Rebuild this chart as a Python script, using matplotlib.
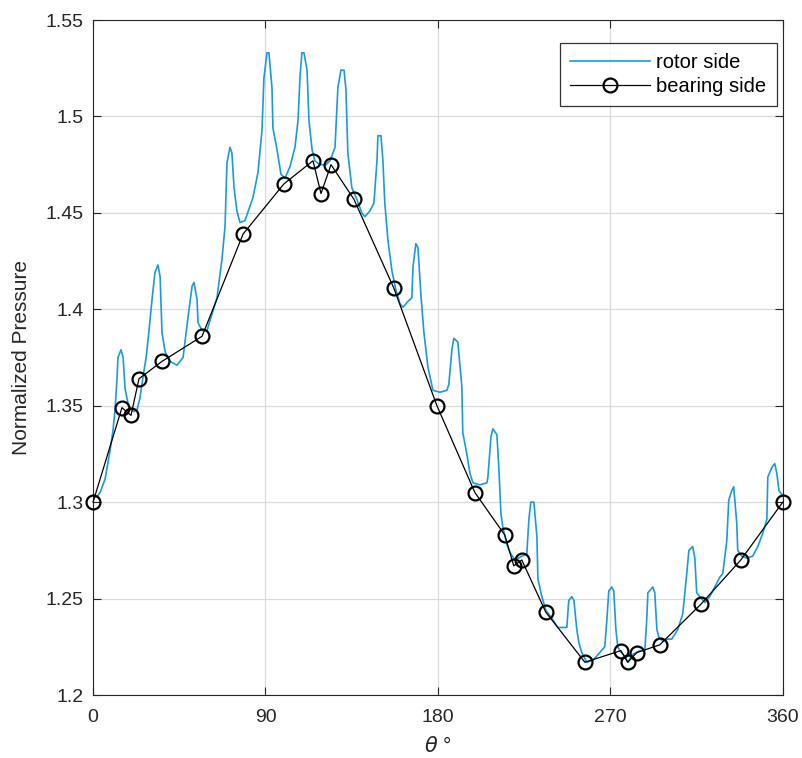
from matplotlib import pyplot as plt
import numpy as np

# rotor side pressure trace (theta in degrees, normalized pressure)
rotor_theta = [
    0, 2.1, 3.7, 6.3, 8.9, 10.4, 11.5, 12.5, 13.0, 14.6, 15.7, 16.7, 18.3, 19.8,
    21.4, 23.0, 24.5, 26.1, 27.7, 28.7, 30.8, 32.3, 33.9, 35.0, 36.0, 37.6, 40.2,
    43.8, 47.0, 49.6, 51.7, 52.7, 54.3, 54.8, 56.9, 59.5, 61.0, 64.7, 67.3, 68.9,
    69.9, 71.5, 72.5, 73.6, 75.1, 76.7, 79.3, 83.5, 86.1, 88.2, 89.2, 90.8, 91.8,
    93.4, 93.9, 96.0, 98.1, 100.2, 102.8, 105.4, 107.0, 108.0, 109.0, 110.1,
    111.7, 112.7, 114.3, 115.8, 118.4, 121.6, 123.7, 126.3, 127.8, 129.4, 131.0,
    132.0, 133.0, 135.1, 137.7, 140.3, 141.9, 144.5, 146.6, 148.2, 148.7, 150.3,
    151.3, 152.3, 153.9, 156.0, 158.1, 160.2, 161.7, 164.3, 166.4, 167.0, 168.5,
    169.6, 171.1, 172.7, 174.8, 177.4, 181.0, 184.7, 185.7, 187.3, 188.3, 190.4,
    192.5, 193.0, 195.1, 196.7, 198.3, 201.9, 205.6, 206.1, 207.7, 208.7, 210.8,
    211.8, 212.9, 213.9, 216.0, 217.6, 220.2, 223.8, 226.4, 227.5, 228.5, 230.1,
    231.7, 232.2, 234.3, 236.3, 240.0, 242.6, 245.2, 247.3, 248.3, 249.9, 251.0,
    252.5, 253.6, 255.1, 257.7, 260.9, 264.5, 267.1, 268.2, 269.2, 270.8, 271.8,
    272.9, 273.9, 275.0, 277.6, 279.1, 281.7, 285.4, 288.0, 289.0, 289.6, 292.2,
    293.2, 294.3, 295.3, 297.4, 300.0, 302.1, 305.2, 307.8, 309.9, 311.0, 313.0,
    314.1, 315.1, 316.7, 319.3, 321.9, 324.5, 327.1, 328.7, 330.8, 331.8, 333.4,
    334.4, 336.0, 336.5, 338.6, 341.2, 344.3, 347.0, 349.6, 351.7, 352.2, 354.3,
    355.8, 356.9, 358.0, 359.5, 360.0,
]
rotor_p = [
    1.302, 1.303, 1.305, 1.312, 1.327, 1.337, 1.348, 1.364, 1.375, 1.379, 1.375,
    1.359, 1.351, 1.348, 1.347, 1.348, 1.354, 1.365, 1.375, 1.384, 1.405, 1.419,
    1.423, 1.417, 1.388, 1.378, 1.373, 1.371, 1.375, 1.396, 1.412, 1.414, 1.405,
    1.393, 1.389, 1.389, 1.394, 1.406, 1.426, 1.443, 1.476, 1.484, 1.481, 1.463,
    1.451, 1.445, 1.446, 1.458, 1.471, 1.493, 1.520, 1.533, 1.533, 1.515, 1.494,
    1.483, 1.470, 1.468, 1.474, 1.484, 1.498, 1.520, 1.533, 1.533, 1.524, 1.498,
    1.483, 1.477, 1.475, 1.475, 1.477, 1.484, 1.515, 1.524, 1.524, 1.514, 1.481,
    1.463, 1.457, 1.450, 1.448, 1.451, 1.455, 1.477, 1.490, 1.490, 1.477, 1.455,
    1.436, 1.420, 1.410, 1.403, 1.401, 1.404, 1.406, 1.422, 1.434, 1.432, 1.408,
    1.388, 1.370, 1.358, 1.357, 1.358, 1.361, 1.379, 1.385, 1.383, 1.360, 1.336,
    1.325, 1.315, 1.310, 1.309, 1.310, 1.313, 1.334, 1.338, 1.335, 1.318, 1.294,
    1.287, 1.278, 1.274, 1.270, 1.272, 1.273, 1.291, 1.300, 1.300, 1.282, 1.260,
    1.251, 1.244, 1.239, 1.235, 1.235, 1.235, 1.249, 1.251, 1.249, 1.234, 1.227,
    1.222, 1.217, 1.218, 1.222, 1.225, 1.239, 1.254, 1.256, 1.254, 1.234, 1.225,
    1.223, 1.220, 1.217, 1.221, 1.223, 1.223, 1.239, 1.253, 1.256, 1.253, 1.234,
    1.230, 1.228, 1.229, 1.229, 1.234, 1.242, 1.263, 1.275, 1.277, 1.271, 1.253,
    1.251, 1.248, 1.251, 1.256, 1.261, 1.263, 1.280, 1.301, 1.306, 1.308, 1.289,
    1.275, 1.272, 1.271, 1.272, 1.277, 1.284, 1.291, 1.313, 1.318, 1.320, 1.315,
    1.306, 1.304, 1.303,
]

# bearing side samples
bearing_theta = [0, 15.1, 19.8, 24.0, 36.0, 56.9, 78.3, 99.6, 114.8, 119.0, 124.2,
                 136.2, 157.0, 179.5, 199.3, 214.9, 219.6, 223.8, 236.3, 256.7,
                 275.5, 279.1, 283.8, 295.8, 317.2, 338.1, 360]
bearing_p = [1.300, 1.349, 1.345, 1.364, 1.373, 1.386, 1.439, 1.465, 1.477, 1.460,
             1.475, 1.457, 1.411, 1.350, 1.305, 1.283, 1.267, 1.270, 1.243, 1.217,
             1.223, 1.217, 1.222, 1.226, 1.247, 1.270, 1.300]

x_ticks = [0, 90, 180, 270, 360]
y_ticks = [1.2, 1.25, 1.3, 1.35, 1.4, 1.45, 1.5, 1.55]
y_tick_labels = ['1.2', '1.25', '1.3', '1.35', '1.4', '1.45', '1.5', '1.55']

plt.rcParams['font.family'] = ['Liberation Sans', 'DejaVu Sans']

fig = plt.figure(figsize=(8.02, 7.58), dpi=100)
ax = fig.add_axes([0.116, 0.0831, 0.86, 0.8905])

ax.plot(rotor_theta, rotor_p, color='#1b9ad6', linewidth=1.2, label='rotor side')
ax.plot(bearing_theta, bearing_p, color='black', linewidth=0.9, marker='o',
        markersize=10, markerfacecolor='none', markeredgewidth=1.6,
        markeredgecolor='black', label='bearing side', clip_on=False, zorder=3)

ax.set_xlim(0, 360)
ax.set_ylim(1.2, 1.55)
ax.set_xticks(x_ticks)
ax.set_yticks(y_ticks)
ax.set_yticklabels(y_tick_labels)
ax.grid(True, color='#dadada', linewidth=0.9)
ax.set_axisbelow(True)
ax.tick_params(direction='in', top=True, right=True, labelsize=14, length=6,
               color='#262626', labelcolor='#262626')
ax.tick_params(axis='x', pad=10)
ax.tick_params(axis='y', pad=7)
for spine in ax.spines.values():
    spine.set_color('#262626')
    spine.set_linewidth(0.8)

ax.set_xlabel(r'$\theta$ °', fontsize=15, color='#262626', labelpad=7)
ax.set_ylabel('Normalized Pressure', fontsize=15, color='#262626', labelpad=10)

leg = ax.legend(loc='upper right', bbox_to_anchor=(0.991, 0.966), borderaxespad=0,
                fontsize=14.5, frameon=True, fancybox=False, edgecolor='black',
                handlelength=4.0, borderpad=0.5, labelspacing=0.25,
                handletextpad=0.3)
leg.get_frame().set_linewidth(0.9)

fig.savefig('out.png', dpi=100)
